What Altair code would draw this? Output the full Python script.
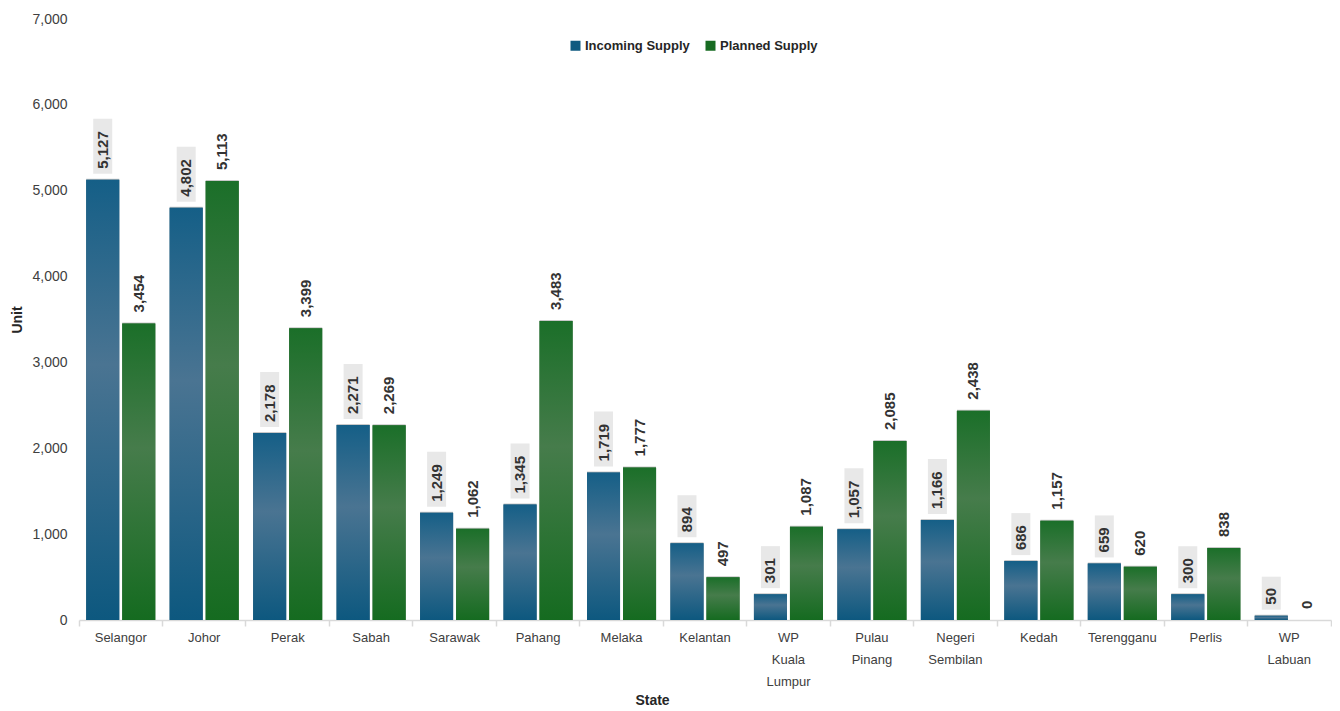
import altair as alt
import pandas as pd

states = ["Selangor", "Johor", "Perak", "Sabah", "Sarawak", "Pahang", "Melaka",
          "Kelantan", "WP Kuala Lumpur", "Pulau Pinang", "Negeri Sembilan",
          "Kedah", "Terengganu", "Perlis", "WP Labuan"]
incoming = [5127, 4802, 2178, 2271, 1249, 1345, 1719, 894, 301, 1057, 1166, 686, 659, 300, 50]
planned = [3454, 5113, 3399, 2269, 1062, 3483, 1777, 497, 1087, 2085, 2438, 1157, 620, 838, 0]
series = ["Incoming Supply", "Planned Supply"]

rows = []
for s, a, b in zip(states, incoming, planned):
    rows.append({"State": s, "Series": series[0], "value": a})
    rows.append({"State": s, "Series": series[1], "value": b})
df = pd.DataFrame(rows)

NARROW = "Liberation Sans Narrow, Arial Narrow, Liberation Sans, sans-serif"
REG = "Liberation Sans, Arial, sans-serif"
W, H = 1252, 601
K = 7000 / H  # data units per pixel

xenc = alt.X("State:N", sort=states, scale=alt.Scale(paddingInner=0, paddingOuter=0),
             axis=alt.Axis(title="State", labelExpr="split(datum.label, ' ')",
                           labelAngle=0, labelFont=NARROW, labelFontSize=13,
                           labelColor="#404040", labelPadding=5, labelLineHeight=22,
                           labelBaseline="top",
                           domainColor="#d9d9d9", domainWidth=1.5,
                           tickColor="#d9d9d9", tickWidth=1.5, tickSize=6,
                           bandPosition=1, tickExtra=True,
                           titleFont=NARROW, titleFontSize=14, titleFontWeight="bold",
                           titleColor="#262626", titleX=573, titleY=80,
                           titleBaseline="middle", titleAlign="center"))
xoff = alt.XOffset("Series:N", sort=series,
                   scale=alt.Scale(domain=series, paddingInner=0.083, paddingOuter=0.2))
yenc = alt.Y("value:Q", scale=alt.Scale(domain=[0, 7000], nice=False),
             axis=alt.Axis(title="Unit", values=list(range(0, 7001, 1000)), format=",.0f",
                           domain=False, ticks=False, grid=False,
                           labelFont=NARROW, labelFontSize=14, labelColor="#404040",
                           labelPadding=12,
                           titleFont=REG, titleFontSize=14, titleFontWeight="bold",
                           titleColor="#262626", titleX=-62, titleAngle=270,
                           titleBaseline="middle", titleAlign="center"))

base = alt.Chart(df)

legend_bars = base.mark_bar().encode(
    x=xenc, xOffset=xoff, y=yenc,
    color=alt.Color("Series:N", sort=series,
                    scale=alt.Scale(domain=series, range=["#0f5a80", "#176b22"]),
                    legend=alt.Legend(title=None, orient="none", legendX=490, legendY=20,
                                      direction="horizontal", symbolType="square",
                                      symbolSize=100, symbolStrokeWidth=0,
                                      labelFont=NARROW, labelFontSize=13,
                                      labelFontWeight="bold", labelColor="#262626",
                                      labelOffset=3, columnPadding=14)),
)

shadow = base.mark_bar(color="#888888", opacity=0.45, xOffset=1.5, yOffset=-1).encode(
    x=xenc, xOffset=xoff, y=yenc)

blue_grad = alt.Gradient(gradient="linear", x1=0, x2=0, y1=0, y2=1, stops=[
    alt.GradientStop(color="#155f87", offset=0),
    alt.GradientStop(color="#4a7492", offset=0.42),
    alt.GradientStop(color="#0d587f", offset=1)])
green_grad = alt.Gradient(gradient="linear", x1=0, x2=0, y1=0, y2=1, stops=[
    alt.GradientStop(color="#1b6f29", offset=0),
    alt.GradientStop(color="#467c4b", offset=0.42),
    alt.GradientStop(color="#156b20", offset=1)])

bars_in = base.transform_filter(alt.datum.Series == series[0]).mark_bar(
    color=blue_grad).encode(x=xenc, xOffset=xoff, y=yenc)
bars_pl = base.transform_filter(alt.datum.Series == series[1]).mark_bar(
    color=green_grad).encode(x=xenc, xOffset=xoff, y=yenc)

boxes = base.transform_filter(alt.datum.Series == series[0]).transform_calculate(
    label="format(datum.value, ',')"
).transform_calculate(
    digits="length(replace(datum.label, ',', ''))"
).transform_calculate(
    boxh="9 * datum.digits + 4 * (length(datum.label) - datum.digits) + 15"
).transform_calculate(
    lo=f"datum.value + 6 * {K}",
    hi=f"datum.value + (6 + datum.boxh) * {K}"
).mark_bar(color="#e8e8e8", width=19).encode(
    x=xenc, xOffset=xoff, y=alt.Y("lo:Q", scale=alt.Scale(domain=[0, 7000], nice=False)),
    y2="hi:Q")

labels = base.transform_calculate(label="format(datum.value, ',')").mark_text(
    angle=270, align="left", baseline="middle", dx=11, font=REG, fontSize=15,
    fontWeight="bold", color="#333333").encode(
    x=xenc, xOffset=xoff, y=yenc, text="label:N")

chart = alt.layer(legend_bars, shadow, bars_in, bars_pl, boxes, labels).properties(
    width=W, height=H,
    autosize=alt.AutoSizeParams(type="none"),
    padding={"left": 71, "top": 11, "right": 1, "bottom": 88},
).configure_view(stroke=None)

chart.save("out.html", embed_options={"renderer": "svg", "actions": False})
